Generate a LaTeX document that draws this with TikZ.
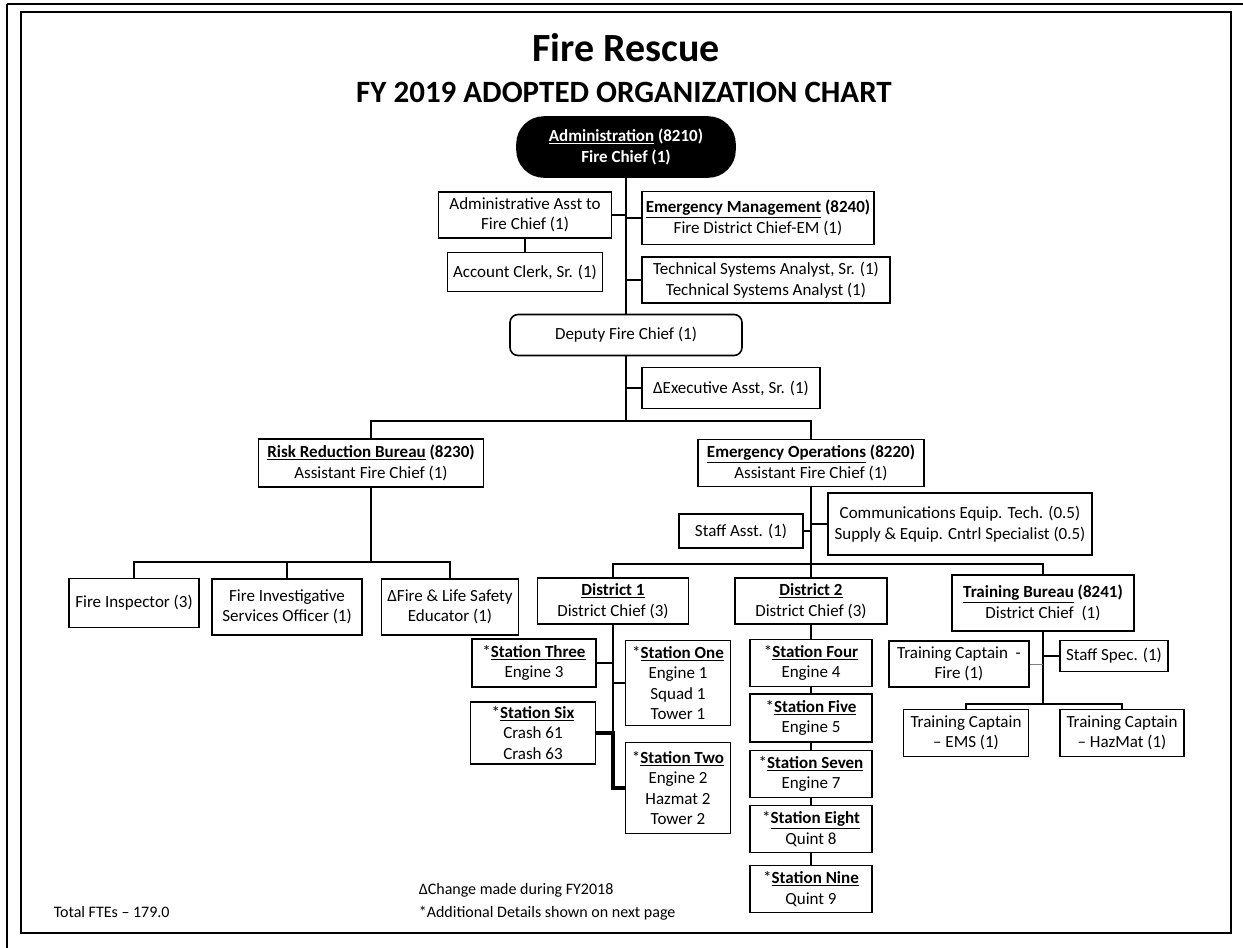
\documentclass[tikz,border=0pt]{standalone}
\usepackage{fontspec}
\setmainfont{Carlito}
\usepackage{tikz}
\usetikzlibrary{positioning}

\newcommand{\hd}[1]{\underline{\textbf{#1}}}

\begin{document}
\begin{tikzpicture}[
    x=1pt, y=-1pt, line width=1.6pt,
    box/.style={rectangle, draw, fill=white, align=center, inner sep=2pt, font=\fontsize{17}{20.5}\selectfont},
    chief/.style={box, fill=black, text=white, rounded corners=27pt, font=\fontsize{17}{20.5}\selectfont\bfseries},
    deputybox/.style={box, rounded corners=8pt},
    note/.style={anchor=west, inner sep=0pt, font=\fontsize{16}{19}\selectfont}
]
\useasboundingbox (0,0) rectangle (1243,948);

% Frame
\draw[line width=2pt] (7,4) -- (1243,4);
\draw[line width=2pt] (7,4) -- (7,948);
\draw[line width=1.6pt] (21,12) rectangle (1231,933);

% Title
\node[font=\fontsize{40}{44}\selectfont\bfseries] (title) at (626,48) {Fire Rescue};
\node[font=\fontsize{31}{36}\selectfont\bfseries] (subtitle) at (624,92) {FY 2019 ADOPTED ORGANIZATION CHART};

% Top
\node[chief, minimum width=218, minimum height=60] (admin) at (626,147) {\underline{Administration} (8210)\\Fire Chief (1)};
\node[box, minimum width=173, minimum height=46] (aac) at (525,215) {Administrative Asst to\\Fire Chief (1)};
\node[box, minimum width=155, minimum height=39] (clerk) at (525,272) {Account Clerk, Sr. (1)};
\node[box, minimum width=232, minimum height=53] (emm) at (758,218) {\hd{Emergency Management} \textbf{(8240)}\\Fire District Chief-EM (1)};
\node[box, minimum width=248, minimum height=46] (tsa) at (766,280) {Technical Systems Analyst, Sr. (1)\\Technical Systems Analyst (1)};
\node[deputybox, minimum width=232, minimum height=41] (deputy) at (626,335) {Deputy Fire Chief (1)};
\node[box, minimum width=178, minimum height=41] (exec) at (731,388) {ΔExecutive Asst, Sr. (1)};

% Bureaus
\node[box, minimum width=225, minimum height=48] (risk) at (371,463) {\hd{Risk Reduction Bureau} \textbf{(8230)}\\Assistant Fire Chief (1)};
\node[box, minimum width=226, minimum height=47] (ops) at (811,463) {\hd{Emergency Operations} \textbf{(8220)}\\Assistant Fire Chief (1)};

% Risk Reduction
\node[box, minimum width=130, minimum height=49] (inspector) at (134,603) {Fire Inspector (3)};
\node[box, minimum width=150, minimum height=56] (investig) at (287,607) {Fire Investigative\\Services Officer (1)};
\node[box, minimum width=137, minimum height=56] (educator) at (450,607) {ΔFire \& Life Safety\\Educator (1)};

% Emergency Operations
\node[box, minimum width=124, minimum height=34] (staff) at (741,531) {Staff Asst. (1)};
\node[box, minimum width=264, minimum height=62] (comm) at (960,524) {Communications Equip. Tech. (0.5)\\Supply \& Equip. Cntrl Specialist (0.5)};
\node[box, minimum width=151, minimum height=46] (d1) at (613,601) {\hd{District 1}\\District Chief (3)};
\node[box, minimum width=152, minimum height=46] (d2) at (811,601) {\hd{District 2}\\District Chief (3)};
\node[box, minimum width=182, minimum height=56] (tb) at (1043,603) {\hd{Training Bureau} \textbf{(8241)}\\District Chief\ \ (1)};

% District 1
\node[box, minimum width=124, minimum height=48] (s3) at (534,663) {*\hd{Station Three}\\Engine 3};
\node[box, minimum width=105, minimum height=85] (s1) at (678,683) {*\hd{Station One}\\Engine 1\\Squad 1\\Tower 1};
\node[box, minimum width=125, minimum height=62] (s6) at (533,733) {*\hd{Station Six}\\Crash 61\\Crash 63};
\node[box, minimum width=105, minimum height=91] (s2) at (678,788) {*\hd{Station Two}\\Engine 2\\Hazmat 2\\Tower 2};

% District 2
\node[box, minimum width=122, minimum height=47] (s4) at (811,663) {*\hd{Station Four}\\Engine 4};
\node[box, minimum width=122, minimum height=48] (s5) at (811,718) {*\hd{Station Five}\\Engine 5};
\node[box, minimum width=122, minimum height=47] (s7) at (811,774) {*\hd{Station Seven}\\Engine 7};
\node[box, minimum width=122, minimum height=47] (s8) at (811,829) {*\hd{Station Eight}\\Quint 8};
\node[box, minimum width=122, minimum height=47] (s9) at (811,889) {*\hd{Station Nine}\\Quint 9};

% Training Bureau
\node[box, minimum width=140, minimum height=46] (tcf) at (959,664) {Training Captain\ \ -\\Fire (1)};
\node[box, minimum width=108, minimum height=31] (ss) at (1114,656) {Staff Spec. (1)};
\node[box, minimum width=125, minimum height=47] (tce) at (966,733) {Training Captain\\-- EMS (1)};
\node[box, minimum width=124, minimum height=47] (tch) at (1122,733) {Training Captain\\-- HazMat (1)};

% Notes
\node[note] (fte) at (53,912) {Total FTEs -- 179.0};
\node[note] (change) at (418,890) {ΔChange made during FY2018};
\node[note] (details) at (418,913) {*Additional Details shown on next page};

% Connections
\coordinate (bus1) at (626,421);
\coordinate (rbus) at (371,562);
\coordinate (obus) at (811,564);
\coordinate (tbus) at (1043,704);

\draw (admin) -- (deputy);
\draw (aac.east) -- (aac.east -| admin);
\draw (emm.west) -- (emm.west -| admin);
\draw (tsa.west) -- (tsa.west -| admin);
\draw (aac) -- (clerk);

\draw (deputy) -- (bus1);
\draw (exec.west) -- (exec.west -| deputy);
\draw (risk.north) |- (bus1) -| (ops.north);

\draw (risk) -- (rbus);
\draw (inspector.north) |- (rbus) -| (educator.north);
\draw (investig.north) -- (investig.north |- rbus);

\draw (ops) -- (d2);
\draw (staff.east) -- (staff.east -| d2);
\draw (comm.west) -- (comm.west -| d2);
\draw (d1.north) |- (obus) -| (tb.north);

\draw (d1.south) -- (d1.south |- s6.east);
\draw (s3.east) -- (s3.east -| d1);
\draw (s1.west) -- (s1.west -| d1);
\draw[line width=3.5pt] (s6.east) -| (d1.south |- s2.west) -- (s2.west);

\draw (d2) -- (s4) -- (s5) -- (s7) -- (s8) -- (s9);

\draw (tb) -- (tbus);
\draw (tce.north) |- (tbus) -| (tch.north);
\draw[gray, line width=1pt] (tcf.east) -- (tcf.east -| tb);
\draw (ss.west) -- (ss.west -| tb);
\end{tikzpicture}
\end{document}
